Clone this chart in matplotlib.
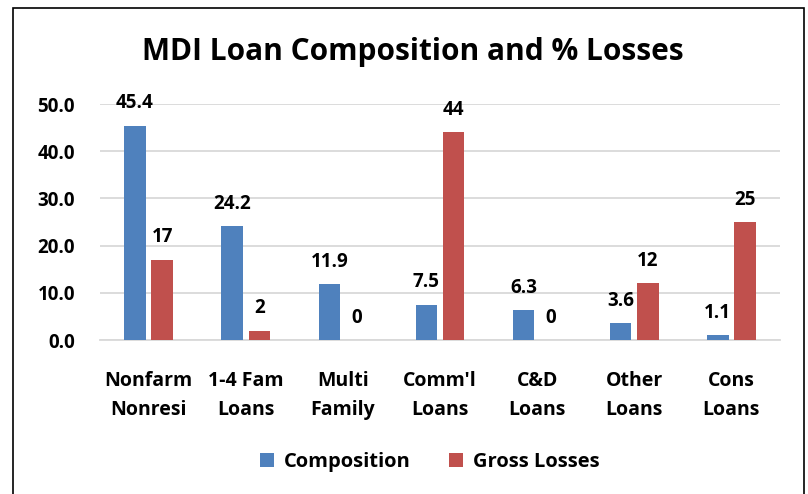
import matplotlib
matplotlib.use("Agg")
import matplotlib.pyplot as plt
import numpy as np
from matplotlib.patches import Rectangle

categories = ["Nonfarm\nNonresi", "1-4 Fam\nLoans", "Multi\nFamily", "Comm'l\nLoans",
              "C&D\nLoans", "Other\nLoans", "Cons\nLoans"]
composition = [45.4, 24.2, 11.9, 7.5, 6.3, 3.6, 1.1]
gross_losses = [17, 2, 0, 44, 0, 12, 25]
comp_labels = ["45.4", "24.2", "11.9", "7.5", "6.3", "3.6", "1.1"]
loss_labels = ["17", "2", "0", "44", "0", "12", "25"]
yticks = [0, 10, 20, 30, 40, 50]

plt.rcParams['font.family'] = ['Open Sans', 'DejaVu Sans']
plt.rcParams['font.weight'] = 'bold'

W, H = 808, 494
fig = plt.figure(figsize=(W / 100, H / 100), dpi=100)
ax = fig.add_axes([100 / W, 1 - 340 / H, 680 / W, 236 / H])

x = np.arange(len(categories))
bw = 0.22
gap = 0.06
blue = "#4F81BD"
red = "#C0504D"
ax.bar(x - (bw + gap) / 2, composition, bw, color=blue, label="Composition", zorder=3)
ax.bar(x + (bw + gap) / 2, gross_losses, bw, color=red, label="Gross Losses", zorder=3)

for xi, v, t in zip(x, composition, comp_labels):
    ax.text(xi - (bw + gap) / 2, v + 2.6, t, ha='center', va='bottom', fontsize=13.5, fontweight='bold')
for xi, v, t in zip(x, gross_losses, loss_labels):
    ax.text(xi + (bw + gap) / 2, v + 2.6, t, ha='center', va='bottom', fontsize=13.5, fontweight='bold')

ax.set_xlim(-0.5, len(categories) - 0.5)
ax.set_ylim(0, 50)
ax.set_yticks(yticks)
ax.set_yticklabels([f"{v:.1f}" for v in yticks], fontsize=13.5, fontweight='bold')
ax.set_xticks(x)
ax.set_xticklabels(categories, fontsize=14, fontweight='bold', linespacing=1.6)
ax.tick_params(axis='y', length=0, pad=18)
ax.tick_params(axis='x', length=0, pad=22)
ax.yaxis.grid(True, color="#D9D9D9", linewidth=1.3, zorder=0)
ax.set_axisbelow(True)
for s in ax.spines.values():
    s.set_visible(False)
ax.spines['bottom'].set_visible(True)
ax.spines['bottom'].set_color("#D9D9D9")
ax.spines['bottom'].set_linewidth(1.3)

fig.text(413 / W, 1 - 52 / H, "MDI Loan Composition and % Losses", ha='center', va='center',
         fontsize=21.5, fontweight='bold')

leg = fig.legend(loc='center', bbox_to_anchor=(430 / W, 1 - 462 / H), ncol=2, frameon=False,
                 fontsize=14.5, handlelength=0.7, handleheight=0.7, columnspacing=1.9, handletextpad=0.5)

fig.patches.append(Rectangle((13 / W, -0.1), (804 - 13) / W, (H - 8) / H + 0.1,
                             transform=fig.transFigure, fill=False, edgecolor='black', linewidth=1.2))

fig.savefig("out.png", dpi=100)
